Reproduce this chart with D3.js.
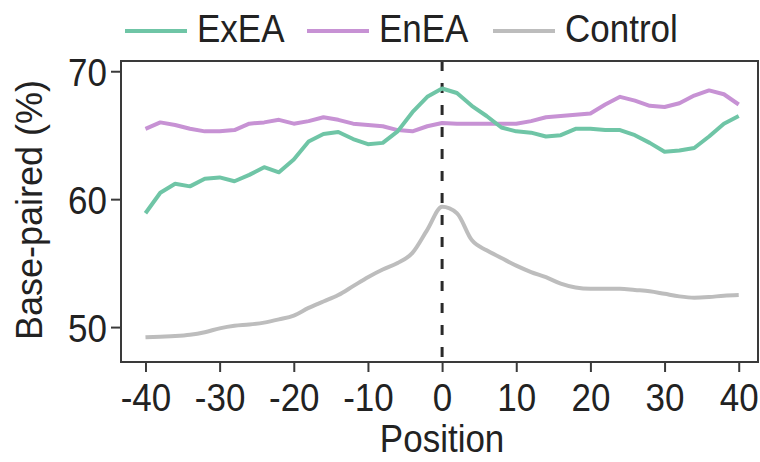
<!DOCTYPE html>
<html>
<head>
<meta charset="utf-8">
<script src="https://cdn.jsdelivr.net/npm/d3@7"></script>
<style>
  body { margin: 0; background: #fff; }
  text { font-family: "Liberation Sans", Arial, sans-serif; fill: #222; }
</style>
</head>
<body>
<div id="chart"></div>
<script>
// positions along the sequence
var positions = [-40,-38,-36,-34,-32,-30,-28,-26,-24,-22,-20,-18,-16,-14,-12,-10,-8,-6,-4,-2,
  0,2,4,6,8,10,12,14,16,18,20,22,24,26,28,30,32,34,36,38,40]

var exea = [58.9,60.5,61.2,61.0,61.6,61.7,61.4,61.9,62.5,62.1,63.1,64.5,65.1,65.25,64.7,64.3,64.4,65.3,66.8,68.0,
  68.65,68.3,67.3,66.5,65.6,65.3,65.2,64.9,65.0,65.5,65.5,65.4,65.4,65.0,64.4,63.7,63.8,64.0,64.9,65.9,66.5]

var enea = [65.5,66.0,65.8,65.5,65.3,65.3,65.4,65.9,66.0,66.2,65.9,66.1,66.4,66.2,65.9,65.8,65.7,65.4,65.3,65.7,
  65.95,65.9,65.9,65.9,65.9,65.9,66.1,66.4,66.5,66.6,66.7,67.4,68.0,67.7,67.3,67.2,67.5,68.1,68.5,68.2,67.4]

var control = [49.2,49.25,49.3,49.4,49.6,49.9,50.1,50.2,50.35,50.6,50.9,51.5,52.0,52.5,53.2,53.9,54.5,55.0,55.8,57.6,
  59.4,58.9,56.8,56.0,55.4,54.8,54.3,53.9,53.4,53.1,53.0,53.0,53.0,52.9,52.8,52.6,52.4,52.3,52.35,52.45,52.5]

var seriesNames = ['ExEA', 'EnEA', 'Control']
var seriesColors = ['#6fc5a6', '#c792d4', '#bdbdbd']
var xTicks = [-40,-30,-20,-10,0,10,20,30,40]
var yTicks = [50,60,70]

var width = 760, height = 462
var panel = {left: 121, right: 758, top: 61, bottom: 362}
var stretch = 1.12

var svg = d3.select('#chart').append('svg')
  .attr('width', width)
  .attr('height', height)

var x = d3.scaleLinear().domain([-43.3, 42.6]).range([panel.left, panel.right])
var y = d3.scaleLinear().domain([47.27, 70.8]).range([panel.bottom, panel.top])

var series = [exea, enea, control].map(function(vals, i) {
  return {
    name: seriesNames[i],
    color: seriesColors[i],
    values: vals.map(function(v, j) { return {pos: positions[j], val: v} })
  }
})

// dashed line at position 0
svg.append('line')
  .attr('x1', x(0)).attr('x2', x(0))
  .attr('y1', panel.top).attr('y2', panel.bottom)
  .attr('stroke', '#2a2a2a')
  .attr('stroke-width', 3)
  .attr('stroke-dasharray', '10,12')

var line = d3.line()
  .x(function(d) { return x(d.pos) })
  .y(function(d) { return y(d.val) })

// draw control first so the coloured lines sit on top
svg.selectAll('path.series')
  .data([series[2], series[1], series[0]])
  .enter()
  .append('path')
  .attr('class', 'series')
  .attr('fill', 'none')
  .attr('stroke', function(d) { return d.color })
  .attr('stroke-width', 4)
  .attr('stroke-linejoin', 'round')
  .attr('d', function(d) {
    return line.curve(d.name == 'Control' ? d3.curveMonotoneX : d3.curveLinear)(d.values)
  })

// panel border
svg.append('rect')
  .attr('x', panel.left).attr('y', panel.top)
  .attr('width', panel.right - panel.left)
  .attr('height', panel.bottom - panel.top)
  .attr('fill', 'none')
  .attr('stroke', '#3a3a3a')
  .attr('stroke-width', 2)

// axes
var xAxis = svg.append('g')
  .attr('transform', 'translate(0,' + panel.bottom + ')')
  .call(d3.axisBottom(x).tickValues(xTicks).tickSize(10).tickSizeOuter(0)
    .tickFormat(function(d) { return d < 0 ? '-' + Math.abs(d) : d }))
xAxis.select('.domain').remove()
xAxis.selectAll('line').attr('stroke', '#3a3a3a').attr('stroke-width', 2)
xAxis.selectAll('text')
  .attr('y', 0).attr('dy', 0)
  .attr('transform', 'translate(0,49) scale(1,' + stretch + ')')
  .style('font-size', '35px')
  .attr('fill', '#2a2a2a')

var yAxis = svg.append('g')
  .attr('transform', 'translate(' + panel.left + ',0)')
  .call(d3.axisLeft(y).tickValues(yTicks).tickSize(10).tickSizeOuter(0))
yAxis.select('.domain').remove()
yAxis.selectAll('line').attr('stroke', '#3a3a3a').attr('stroke-width', 2)
yAxis.selectAll('text')
  .attr('x', 0).attr('dy', '0.36em')
  .attr('transform', 'translate(-14,0) scale(1,' + stretch + ')')
  .style('font-size', '35px')
  .attr('fill', '#2a2a2a')

// axis titles
svg.append('text')
  .attr('transform', 'translate(' + x(0) + ',452) scale(1,' + stretch + ')')
  .attr('text-anchor', 'middle')
  .style('font-size', '35px')
  .text('Position')

svg.append('text')
  .attr('transform', 'translate(42,210) rotate(-90)')
  .attr('text-anchor', 'middle')
  .style('font-size', '36px')
  .text('Base-paired (%)')

// legend
var legendX = [125, 307, 493]
var legend = svg.selectAll('g.legend')
  .data(series)
  .enter()
  .append('g')
  .attr('class', 'legend')
  .attr('transform', function(d, i) { return 'translate(' + legendX[i] + ',0)' })

legend.append('line')
  .attr('x1', 0).attr('x2', 62)
  .attr('y1', 31).attr('y2', 31)
  .attr('stroke', function(d) { return d.color })
  .attr('stroke-width', 4)

legend.append('text')
  .attr('transform', 'translate(72,42) scale(1,' + stretch + ')')
  .style('font-size', '35px')
  .text(function(d) { return d.name })
</script>
</body>
</html>
